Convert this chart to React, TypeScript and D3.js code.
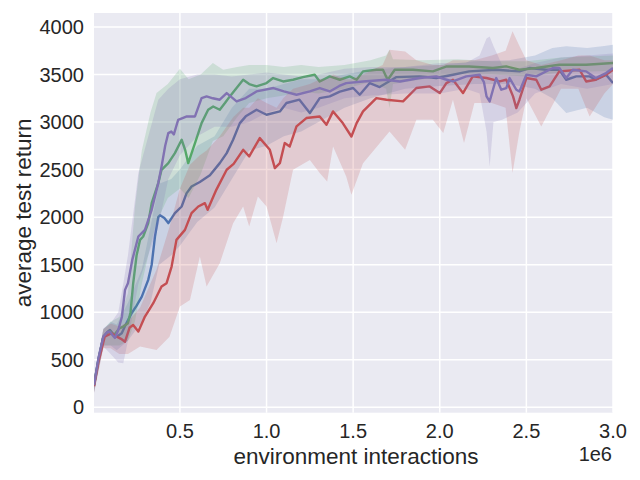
import * as d3 from 'd3'

// x in millions of interactions, y = average test return
const X_TICKS = [0.5, 1.0, 1.5, 2.0, 2.5, 3.0]
const Y_TICKS = [0, 500, 1000, 1500, 2000, 2500, 3000, 3500, 4000]

const blueMean: [number, number][] = [
  [0.004, 230], [0.03, 510], [0.058, 740], [0.08, 790], [0.096, 813], [0.115, 770], [0.135, 743],
  [0.164, 779], [0.19, 880], [0.221, 989], [0.25, 1070], [0.28, 1164], [0.317, 1340], [0.337, 1500],
  [0.356, 1796], [0.375, 2000], [0.385, 2020], [0.41, 1990], [0.433, 1937], [0.471, 2042], [0.51, 2112],
  [0.538, 2250], [0.567, 2322], [0.615, 2370], [0.673, 2440], [0.73, 2568], [0.77, 2673], [0.807, 2814],
  [0.846, 2989], [0.88, 3060], [0.942, 3129], [1.0, 3077], [1.077, 3112], [1.115, 3200], [1.19, 3235],
  [1.25, 3095], [1.307, 3252], [1.365, 3270], [1.423, 3320], [1.5, 3358], [1.538, 3287], [1.596, 3410],
  [1.653, 3368], [1.75, 3473], [1.884, 3480], [1.98, 3463], [2.076, 3498], [2.17, 3533], [2.326, 3550],
  [2.46, 3533], [2.518, 3568], [2.615, 3550], [2.69, 3550], [2.73, 3445], [2.788, 3480], [2.865, 3480],
  [2.9, 3445], [2.96, 3498], [3.0, 3410],
]

const greenMean: [number, number][] = [
  [0.004, 230], [0.03, 500], [0.058, 740], [0.08, 780], [0.096, 800], [0.12, 760], [0.15, 830],
  [0.173, 849], [0.2, 884], [0.215, 1000], [0.23, 1300], [0.25, 1600], [0.27, 1761], [0.288, 1796],
  [0.317, 1937], [0.337, 2147], [0.375, 2358], [0.394, 2498], [0.433, 2568], [0.471, 2673], [0.51, 2814],
  [0.53, 2708], [0.548, 2568], [0.587, 2779], [0.625, 2989], [0.663, 3129], [0.692, 3164], [0.73, 3129],
  [0.76, 3200], [0.788, 3270], [0.827, 3358], [0.865, 3445], [0.9, 3400], [0.942, 3375], [1.0, 3410],
  [1.038, 3463], [1.096, 3427], [1.153, 3445], [1.21, 3473], [1.278, 3498], [1.307, 3427], [1.365, 3480],
  [1.423, 3445], [1.48, 3480], [1.52, 3445], [1.557, 3533], [1.634, 3550], [1.672, 3550], [1.69, 3480],
  [1.7, 3445], [1.74, 3550], [1.845, 3550], [1.96, 3533], [2.04, 3585], [2.17, 3585], [2.307, 3568],
  [2.384, 3585], [2.46, 3550], [2.557, 3568], [2.69, 3603], [2.845, 3603], [3.0, 3621],
]

const redMean: [number, number][] = [
  [0.004, 220], [0.03, 480], [0.066, 743], [0.106, 779], [0.135, 743], [0.16, 720], [0.183, 690],
  [0.21, 840], [0.23, 866], [0.26, 796], [0.298, 954], [0.346, 1095], [0.394, 1270], [0.423, 1305],
  [0.452, 1480], [0.48, 1761], [0.529, 1866], [0.567, 2042], [0.606, 2112], [0.644, 2147], [0.66, 2077],
  [0.71, 2287], [0.77, 2498], [0.81, 2560], [0.865, 2708], [0.9, 2638], [0.961, 2831], [1.019, 2708],
  [1.048, 2516], [1.077, 2568], [1.105, 2779], [1.134, 2743], [1.173, 2954], [1.23, 3042], [1.307, 3059],
  [1.346, 2972], [1.384, 3112], [1.44, 2989], [1.49, 2848], [1.52, 2989], [1.557, 3112], [1.634, 3252],
  [1.692, 3235], [1.788, 3217], [1.865, 3358], [1.942, 3375], [2.0, 3305], [2.038, 3410], [2.076, 3445],
  [2.134, 3305], [2.19, 3480], [2.27, 3463], [2.345, 3427], [2.384, 3445], [2.423, 3270], [2.442, 3147],
  [2.46, 3235], [2.5, 3463], [2.557, 3445], [2.586, 3340], [2.634, 3375], [2.69, 3533], [2.807, 3550],
  [2.845, 3427], [2.9, 3445], [2.96, 3498], [3.0, 3550],
]

const purpleMean: [number, number][] = [
  [0.004, 234], [0.03, 520], [0.058, 743], [0.08, 790], [0.096, 796], [0.11, 760], [0.125, 729],
  [0.144, 813], [0.165, 950], [0.183, 1235], [0.2, 1305], [0.225, 1550], [0.26, 1796], [0.298, 1866],
  [0.337, 2077], [0.375, 2358], [0.394, 2533], [0.415, 2750], [0.433, 2884], [0.45, 2900], [0.465, 2870],
  [0.49, 3024], [0.54, 3060], [0.587, 3059], [0.625, 3252], [0.654, 3270], [0.69, 3250], [0.73, 3235],
  [0.77, 3305], [0.827, 3217], [0.88, 3252], [0.942, 3322], [1.04, 3358], [1.1, 3322], [1.173, 3287],
  [1.25, 3322], [1.307, 3358], [1.365, 3322], [1.42, 3380], [1.46, 3410], [1.557, 3427], [1.69, 3445],
  [1.77, 3427], [1.884, 3463], [1.98, 3480], [2.03, 3450], [2.076, 3427], [2.153, 3480], [2.23, 3498],
  [2.255, 3420], [2.27, 3270], [2.288, 3217], [2.307, 3340], [2.326, 3463], [2.355, 3340], [2.384, 3358],
  [2.403, 3463], [2.442, 3340], [2.46, 3322], [2.5, 3498], [2.557, 3480], [2.653, 3568], [2.69, 3568],
  [2.73, 3463], [2.768, 3550], [2.845, 3533], [2.9, 3463], [2.96, 3515], [3.0, 3568],
]

// [x, lower, upper]
const blueBand: [number, number, number][] = [
  [0.004, 160, 300], [0.058, 650, 820], [0.1, 650, 900], [0.135, 600, 870], [0.2, 700, 1100],
  [0.28, 900, 1450], [0.33, 1100, 1900], [0.38, 1500, 2350], [0.45, 1600, 2400], [0.5, 1700, 2500],
  [0.6, 1950, 2750], [0.7, 2100, 2850], [0.8, 2400, 3150], [0.9, 2700, 3350], [1.0, 2750, 3350],
  [1.1, 2850, 3400], [1.2, 2900, 3450], [1.3, 3000, 3450], [1.45, 3150, 3500], [1.6, 3250, 3550],
  [1.8, 3350, 3580], [2.0, 3380, 3600], [2.2, 3400, 3640], [2.4, 3400, 3650], [2.55, 3350, 3700],
  [2.65, 3250, 3780], [2.73, 3095, 3796], [2.85, 3150, 3780], [2.95, 3050, 3800], [3.0, 3024, 3813],
]

const greenBand: [number, number, number][] = [
  [0.004, 160, 300], [0.058, 650, 820], [0.1, 650, 900], [0.15, 650, 950], [0.2, 700, 1200],
  [0.24, 900, 2100], [0.28, 1300, 2700], [0.33, 1700, 3100], [0.365, 1950, 3305], [0.43, 2200, 3400],
  [0.5, 2300, 3560], [0.55, 2200, 3450], [0.62, 2450, 3500], [0.69, 2800, 3621], [0.75, 2850, 3550],
  [0.83, 3050, 3580], [0.9, 3200, 3600], [1.0, 3250, 3600], [1.1, 3280, 3580], [1.2, 3320, 3600],
  [1.3, 3300, 3580], [1.45, 3350, 3600], [1.6, 3420, 3650], [1.69, 3350, 3700], [1.71, 3147, 3761],
  [1.73, 3400, 3660], [1.9, 3450, 3650], [2.1, 3500, 3660], [2.3, 3500, 3640], [2.5, 3480, 3640],
  [2.7, 3520, 3680], [3.0, 3540, 3700],
]

const redBand: [number, number, number][] = [
  [0.004, 150, 300], [0.058, 620, 820], [0.1, 620, 880], [0.15, 560, 850], [0.2, 560, 900],
  [0.27, 638, 1050], [0.365, 603, 1450], [0.44, 743, 1900], [0.5, 1059, 2300], [0.558, 1129, 2550],
  [0.615, 1585, 2650], [0.654, 1270, 2700], [0.73, 1515, 2850], [0.807, 1936, 3050], [0.865, 2112, 3150],
  [0.9, 1901, 3150], [0.95, 2217, 3250], [1.0, 2112, 3200], [1.058, 1726, 3150], [1.096, 2006, 3250],
  [1.153, 2498, 3350], [1.25, 2600, 3400], [1.307, 2463, 3450], [1.35, 2375, 3450], [1.384, 2744, 3500],
  [1.46, 2427, 3450], [1.49, 2235, 3450], [1.557, 2568, 3500], [1.67, 2814, 3600], [1.71, 2900, 3761],
  [1.8, 2708, 3743], [1.865, 3024, 3650], [1.96, 3024, 3600], [2.02, 2884, 3600], [2.076, 3235, 3650],
  [2.14, 2779, 3650], [2.2, 3200, 3650], [2.3, 3200, 3700], [2.38, 3150, 3750], [2.42, 2463, 3954],
  [2.46, 2900, 3800], [2.5, 3250, 3650], [2.586, 2954, 3600], [2.7, 3350, 3650], [2.8, 3350, 3700],
  [2.865, 3059, 3700], [2.95, 3300, 3650], [3.0, 3400, 3650],
]

const purpleBand: [number, number, number][] = [
  [0.004, 150, 320], [0.058, 640, 830], [0.1, 560, 880], [0.144, 470, 1000], [0.173, 463, 1300],
  [0.2, 700, 1600], [0.26, 1300, 2463], [0.317, 1600, 2848], [0.375, 1900, 3235], [0.433, 2400, 3350],
  [0.5, 2650, 3450], [0.6, 2850, 3500], [0.7, 2950, 3500], [0.8, 2950, 3480], [0.9, 3000, 3500],
  [1.0, 3100, 3520], [1.1, 3150, 3500], [1.2, 3100, 3480], [1.3, 3150, 3500], [1.45, 3250, 3560],
  [1.6, 3280, 3580], [1.8, 3300, 3580], [2.0, 3300, 3620], [2.15, 3350, 3620], [2.23, 3300, 3700],
  [2.27, 2900, 3880], [2.288, 2533, 3901], [2.31, 3000, 3800], [2.36, 3024, 3600], [2.45, 3100, 3560],
  [2.55, 3300, 3620], [2.7, 3400, 3680], [2.85, 3350, 3700], [3.0, 3400, 3720],
]

const SERIES = [
  { name: 'blue', color: '#4C72B0', mean: blueMean, band: blueBand },
  { name: 'green', color: '#55A868', mean: greenMean, band: greenBand },
  { name: 'red', color: '#C44E52', mean: redMean, band: redBand },
  { name: 'purple', color: '#8172B2', mean: purpleMean, band: purpleBand },
]

const W = 640
const H = 480
const M = { left: 94, right: 613, top: 13, bottom: 412.7 }
const FONT = '"Liberation Sans", Arial, sans-serif'
const INK = '#262626'

export default function App() {
  const x = d3.scaleLinear().domain([0.004, 3.0]).range([M.left, M.right])
  const y = d3.scaleLinear().domain([-57, 4147]).range([M.bottom, M.top])

  const line = d3.line<[number, number]>().x(d => x(d[0])).y(d => y(d[1]))
  const area = d3.area<[number, number, number]>()
    .x(d => x(d[0])).y0(d => y(d[1])).y1(d => y(d[2]))

  return (
    <svg width={W} height={H} style={{ position: 'absolute', left: 0, top: 0, background: '#fff' }}
      fontFamily={FONT}>
      <defs>
        <clipPath id="plot">
          <rect x={M.left} y={M.top} width={M.right - M.left} height={M.bottom - M.top} />
        </clipPath>
      </defs>
      <rect x={M.left} y={M.top} width={M.right - M.left} height={M.bottom - M.top} fill="#EAEAF2" />

      {/* grid */}
      {X_TICKS.map(t => (
        <line key={'gx' + t} x1={x(t)} x2={x(t)} y1={M.top} y2={M.bottom} stroke="#fff" strokeWidth={1.5} />
      ))}
      {Y_TICKS.map(t => (
        <line key={'gy' + t} x1={M.left} x2={M.right} y1={y(t)} y2={y(t)} stroke="#fff" strokeWidth={1.5} />
      ))}

      <g clipPath="url(#plot)">
        {SERIES.map(s => (
          <g key={s.name}>
            <path d={area(s.band) ?? ''} fill={s.color} fillOpacity={0.2} stroke="none" />
            <path d={line(s.mean) ?? ''} fill="none" stroke={s.color} strokeWidth={2.4} strokeLinejoin="round" />
          </g>
        ))}
      </g>

      {/* tick labels */}
      {X_TICKS.map(t => (
        <text key={'tx' + t} x={x(t)} y={438.3} textAnchor="middle" fontSize={20} fill={INK}>
          {t.toFixed(1)}
        </text>
      ))}
      {Y_TICKS.map(t => (
        <text key={'ty' + t} x={84} y={y(t)} dy="0.36em" textAnchor="end" fontSize={20} fill={INK}>
          {t}
        </text>
      ))}

      <text x={356} y={464} textAnchor="middle" fontSize={22.5} fill={INK}>environment interactions</text>
      <text x={612} y={460.5} textAnchor="end" fontSize={20} fill={INK}>1e6</text>
      <text transform={`translate(30.5,${(M.top + M.bottom) / 2}) rotate(-90)`} textAnchor="middle"
        fontSize={22.5} fill={INK}>average test return</text>
    </svg>
  )
}
